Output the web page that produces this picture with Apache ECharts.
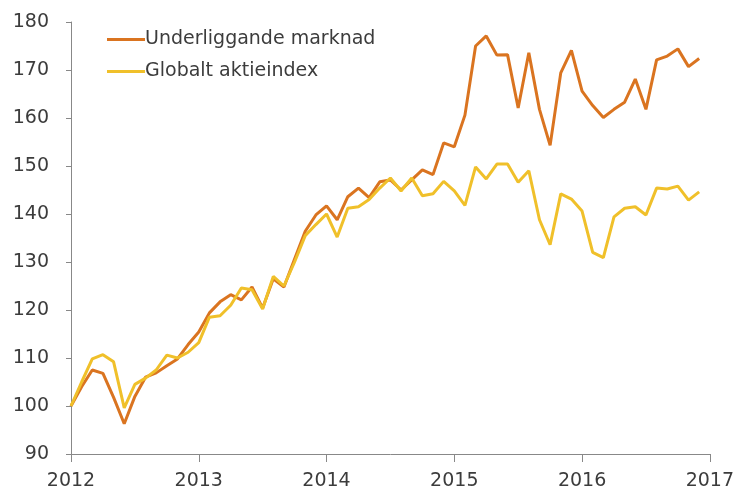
<!DOCTYPE html>
<html>
<head>
<meta charset="utf-8">
<script src="https://cdn.jsdelivr.net/npm/echarts@6/dist/echarts.min.js"></script>
<style>
  html, body { margin: 0; padding: 0; background: #fff; }
  #main { width: 737px; height: 492px; }
</style>
</head>
<body>
<div id="main"></div>
<script>
// månadsdata jan 2012 - dec 2016, index 100 = jan 2012
var underliggande = [
  100, 104, 107.5, 106.8, 101.8, 96.3, 102, 106, 106.9, 108.4, 109.8, 112.8,
  115.4, 119.4, 121.7, 123.2, 122.1, 124.8, 120.4, 126.5, 124.8, 130.6, 136.4, 139.8,
  141.7, 138.8, 143.6, 145.4, 143.4, 146.7, 147.1, 145, 147.1, 149.2, 148.2, 154.8,
  154, 160.6, 175, 177.1, 173.1, 173.2, 162.1, 173.6, 161.8, 154.3, 169.4, 174.1,
  165.6, 162.6, 160.1, 161.8, 163.3, 168.1, 161.8, 172.1, 172.9, 174.4, 170.7, 172.4
];
var globalt = [
  100, 105, 109.8, 110.7, 109.2, 99.6, 104.5, 105.8, 107.5, 110.6, 110, 111.2,
  113.2, 118.5, 118.8, 121, 124.6, 124.2, 120.2, 127, 125, 130, 135.5, 137.8,
  140, 135.2, 141.2, 141.5, 143, 145.4, 147.5, 144.8, 147.5, 143.8, 144.2, 146.8,
  144.8, 141.8, 149.8, 147.3, 150.4, 150.4, 146.6, 149, 138.8, 133.6, 144.2, 143.1,
  140.6, 132, 130.9, 139.4, 141.2, 141.5, 139.8, 145.4, 145.2, 145.8, 142.9, 144.6
];
var startYear = 2012;
var yearTicks = [2012, 2013, 2014, 2015, 2016, 2017];

//x-värde per månad
function toPairs(vals){
    return vals.map(function(v, i){ return [startYear + i / 12, v]; });
}

var font = '"DejaVu Sans", sans-serif';
var chart = echarts.init(document.getElementById('main'));
var option = {
    animation: false,
    backgroundColor: '#fff',
    grid: { left: 71, right: 26, top: 22, bottom: 38 },
    legend: {
        orient: 'vertical',
        left: 102,
        top: 25,
        itemGap: 13,
        itemWidth: 38,
        itemHeight: 3,
        icon: 'rect',
        textStyle: { fontFamily: font, fontSize: 19, color: '#3c3c3c', padding: [0, 0, 0, -5] },
        data: ['Underliggande marknad', 'Globalt aktieindex']
    },
    xAxis: {
        type: 'value',
        min: 2012,
        max: 2017,
        interval: 1,
        splitLine: { show: false },
        axisLine: { lineStyle: { color: '#888', width: 1 } },
        axisTick: { show: true, length: 8, lineStyle: { color: '#888' } },
        axisLabel: {
            fontFamily: font, fontSize: 19, color: '#3c3c3c', margin: 18,
            formatter: function(v){ return yearTicks.indexOf(v) >= 0 ? String(v) : ''; }
        }
    },
    yAxis: {
        type: 'value',
        min: 90,
        max: 180,
        interval: 10,
        splitLine: { show: false },
        axisLine: { show: true, lineStyle: { color: '#888', width: 1 } },
        axisTick: { show: true, length: 5, lineStyle: { color: '#888' } },
        axisLabel: { fontFamily: font, fontSize: 19, color: '#3c3c3c', margin: 22 }
    },
    series: [
        {
            name: 'Underliggande marknad',
            type: 'line',
            showSymbol: false,
            color: '#da7420',
            lineStyle: { width: 3, color: '#da7420' },
            data: toPairs(underliggande),
            z: 2
        },
        {
            name: 'Globalt aktieindex',
            type: 'line',
            showSymbol: false,
            color: '#f0c02a',
            lineStyle: { width: 3, color: '#f0c02a' },
            data: toPairs(globalt),
            z: 3
        }
    ]
};
chart.setOption(option);
</script>
</body>
</html>
